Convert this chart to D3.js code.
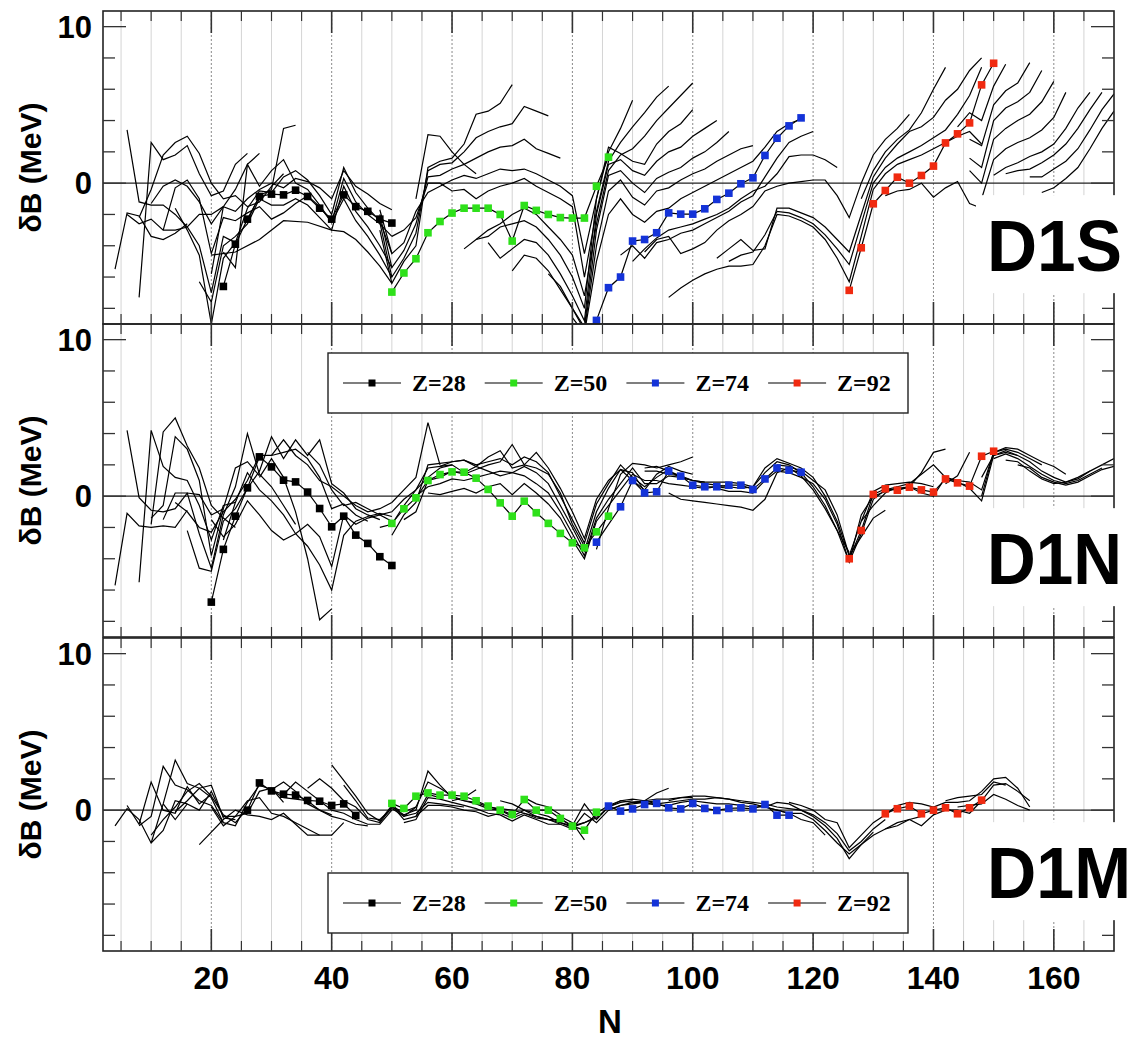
<!DOCTYPE html>
<html><head><meta charset="utf-8">
<script src="https://cdn.jsdelivr.net/npm/d3@7"></script>
<style>body{margin:0;background:#fff}</style>
</head><body>
<script>
// ---------------- DATA ----------------
const xTickValues = [20, 40, 60, 80, 100, 120, 140, 160];
const yTickLabels = [0, 10];
const panelNames = ["D1S", "D1N", "D1M"];
const legendLabels = ["Z=28", "Z=50", "Z=74", "Z=92"];
const seriesColors = ["#000000", "#2ee01a", "#1433d8", "#f02a10"];

// D1S coloured chains [N, dB]
const d1sZ28 = [[22,-6.6],[24,-3.9],[26,-2.3],[28,-0.85],[30,-0.7],[32,-0.75],[34,-0.45],[36,-0.85],[38,-1.6],[40,-2.3],[42,-0.75],[44,-1.5],[46,-1.8],[48,-2.3],[50,-2.55]];
const d1sZ50 = [[50,-6.96],[52,-5.74],[54,-4.83],[56,-3.17],[58,-2.45],[60,-1.91],[62,-1.6],[64,-1.6],[66,-1.6],[68,-2.0],[70,-3.7],[72,-1.43],[74,-1.74],[76,-2.0],[78,-2.2],[80,-2.23],[82,-2.23],[84,-0.2],[86,1.66]];
const d1sZ74 = [[84,-8.77],[86,-6.68],[88,-6.0],[90,-3.7],[92,-3.6],[94,-3.17],[96,-1.9],[98,-1.98],[100,-1.98],[102,-1.64],[104,-1.04],[106,-0.64],[108,-0.04],[110,0.34],[112,1.77],[114,2.87],[116,3.66],[118,4.17]];
const d1sZ92 = [[126,-6.85],[128,-4.13],[130,-1.32],[132,-0.47],[134,0.38],[136,0.0],[138,0.49],[140,1.09],[142,2.57],[144,3.15],[146,3.85],[148,6.28],[150,7.66]];

// D1N coloured chains
const d1nZ28 = [[20,-6.77],[22,-3.4],[24,-1.28],[26,0.53],[28,2.51],[30,1.87],[32,1.02],[34,0.91],[36,0.26],[38,-0.79],[40,-1.96],[42,-1.28],[44,-2.49],[46,-3.02],[48,-3.87],[50,-4.43]];
const d1nZ50 = [[50,-1.74],[52,-0.81],[54,-0.11],[56,1.0],[58,1.38],[60,1.55],[62,1.53],[64,1.15],[66,0.43],[68,-0.43],[70,-1.28],[72,-0.32],[74,-1.06],[76,-1.74],[78,-2.38],[80,-2.98],[82,-3.3],[84,-2.28],[86,-1.28]];
const d1nZ74 = [[84,-2.94],[88,-0.68],[90,1.0],[92,0.21],[94,0.28],[96,1.6],[98,1.28],[100,0.7],[102,0.6],[104,0.6],[106,0.7],[108,0.7],[110,0.43],[112,1.1],[114,1.8],[116,1.66],[118,1.53]];
const d1nZ92 = [[126,-4.0],[128,-2.19],[130,0.11],[132,0.47],[134,0.38],[136,0.57],[138,0.4],[140,0.26],[142,1.1],[144,0.85],[146,0.64],[148,2.55],[150,2.87]];

// D1M coloured chains
const d1mZ28 = [[26,0.0],[28,1.74],[30,1.23],[32,1.02],[34,0.96],[36,0.62],[38,0.57],[40,0.3],[42,0.4],[44,-0.34]];
const d1mZ50 = [[50,0.43],[52,0.11],[54,0.89],[56,1.1],[58,0.96],[60,0.96],[62,0.89],[64,0.6],[66,0.26],[68,0.0],[70,-0.28],[72,0.68],[74,0.0],[76,0.0],[78,-0.53],[80,-1.02],[82,-1.28],[84,-0.13]];
const d1mZ74 = [[86,0.26],[88,-0.06],[90,0.08],[92,0.36],[94,0.43],[96,0.15],[98,0.08],[100,0.43],[102,0.11],[104,-0.02],[106,0.11],[108,0.15],[110,0.08],[112,0.36],[114,-0.32],[116,-0.32]];
const d1mZ92 = [[132,-0.23],[134,0.09],[136,0.26],[138,-0.23],[140,0.0],[142,0.15],[144,-0.23],[146,0.15],[148,0.64]];

// other isotopic chains (black lines)
const d1sLines = [
 [[4,-5.5],[6,-1.9],[8,-2.1],[10,-3.4],[12,-3.6],[14,-3.2],[16,-2.6]],
 [[6,3.4],[8,-1.2],[10,-1.4],[12,-1.4],[14,-2.0],[16,-2.8],[18,-4.0],[20,-7.0],[22,-3.4],[24,-3.8]],
 [[8,-7.3],[10,2.6],[12,1.5],[14,1.8],[16,2.4],[18,0.6],[20,-0.8],[22,-0.5],[24,1.2],[26,1.9]],
 [[8,-2.2],[10,-0.4],[12,1.8],[14,2.6],[16,3.0],[18,1.9],[20,0.0],[22,-1.0],[24,-0.8],[26,-1.5],[28,-1.2],[30,-0.2],[32,0.6]],
 [[10,-1.3],[12,-0.2],[14,0.2],[16,-0.2],[18,-1.2],[20,-2.6],[22,-1.5],[24,-1.8],[26,-1.0],[28,-0.4],[30,0.0],[32,-0.3],[34,0.3],[36,0.1],[38,-0.3],[40,-1.0],[42,0.8],[44,-0.2],[46,-0.7],[48,-1.3],[50,-1.7]],
 [[12,-3.0],[14,-0.3],[16,0.2],[18,-1.0],[20,-4.5],[22,-2.2],[24,-2.4],[26,-1.9],[28,-1.5],[30,-2.3],[32,-1.9],[34,-1.3],[36,-0.8],[38,-1.5],[40,-2.5],[42,0.3],[44,-1.2],[46,-2.0],[48,-2.6],[50,-3.4]],
 [[14,-1.6],[16,-3.0],[18,-4.6],[20,-9.0],[22,-4.8],[24,-3.8],[26,-1.6],[28,-0.5],[30,-0.6],[32,0.4],[34,0.8],[36,0.2],[38,-0.8],[40,-2.0],[42,1.0],[44,-0.6],[46,-1.6],[48,-2.4],[50,-4.5]],
 [[18,-6.3],[20,-7.6],[22,-4.0],[24,-3.4],[26,-2.6],[28,-1.0],[30,-1.4],[32,-1.4],[34,-1.0],[36,-1.4],[38,-2.2],[40,-3.0],[42,-0.2],[44,-1.8],[46,-2.8],[48,-4.0],[50,-5.4]],
 [[20,-5.8],[22,-1.5],[24,-0.4],[26,1.2],[28,-0.2],[30,0.8],[32,1.5],[34,0.0],[36,-0.4],[38,-1.4],[40,-2.5],[42,-1.0],[44,-2.4],[46,-3.4],[48,-4.6],[50,-6.0]],
 [[20,-4.6],[24,-4.4],[28,-3.6],[32,-2.4],[36,-2.5],[40,-3.0],[42,-3.1],[44,-3.6],[46,-4.4],[48,-5.3],[50,-6.4]],
 [[26,-2.4],[28,-0.8],[30,-0.4],[32,3.5],[34,3.7]],
 [[22,-4.4],[24,-5.4],[26,1.2],[28,1.9]],
 [[6,-2.0],[8,-2.6],[10,-2.3],[12,-3.0],[14,-3.0],[16,-2.8],[18,-2.0],[20,-2.0],[22,-1.5]],
 [[48,-3.0],[50,-6.4],[52,-5.0],[54,-4.0],[56,1.0],[58,1.4],[60,1.6],[62,2.5],[64,4.4],[66,4.6],[68,5.1],[70,6.3]],
 [[48,-2.5],[50,-6.0],[52,-4.8],[54,-3.2],[56,0.8],[58,1.2],[60,1.3],[62,2.0],[64,2.9],[66,3.3],[68,3.6],[70,3.8],[72,4.9],[74,4.6],[76,4.3]],
 [[48,-2.0],[50,-5.4],[52,-4.3],[54,-2.6],[56,0.4],[58,0.5],[60,0.9],[62,1.2],[64,1.6],[66,2.0],[68,2.3],[70,2.4],[72,2.8],[74,2.2],[76,1.9],[78,1.6]],
 [[48,-1.7],[50,-4.5],[52,-3.8],[54,-1.8],[56,-0.6],[58,-0.2],[60,0.2],[62,0.5],[64,0.3],[66,0.6],[68,0.9],[70,0.8],[72,0.9],[74,0.6],[76,0.2],[78,-0.2],[80,-0.8],[82,-4.5],[84,-1.0],[86,2.0],[88,3.5],[90,5.3]],
 [[50,-3.4],[52,-3.0],[54,-2.2],[56,0.0],[58,0.0],[60,-0.5],[62,-0.4],[64,-1.0],[66,-0.5],[68,-0.2],[70,0.0],[72,0.3],[74,-0.2],[76,-0.6],[78,-1.0],[80,-1.5],[82,-6.0],[84,-1.8],[86,1.4],[88,2.6],[90,3.6],[92,4.5],[94,5.5],[96,6.2]],
 [[54,-1.0],[56,3.1],[58,3.0],[60,2.0],[62,1.2],[64,0.6]],
 [[62,-4.2],[64,-3.6],[66,-3.0],[68,-2.6],[70,-2.0],[72,-1.6],[74,-2.0],[76,-2.8],[78,-3.6],[80,-4.6],[82,-7.2],[84,-2.6],[86,0.8],[88,1.8],[90,2.2],[92,3.0],[94,4.0],[96,4.8],[98,5.6],[100,6.4]],
 [[64,-3.6],[66,-3.4],[68,-2.8],[70,-2.6],[72,-2.4],[74,-2.8],[76,-3.6],[78,-4.6],[80,-6.0],[82,-8.0],[84,-1.0],[86,2.3],[88,1.9],[90,1.4],[92,1.2],[94,2.5],[96,3.3],[98,3.8],[100,4.7]],
 [[66,-3.8],[68,-4.8],[70,-4.2],[72,-3.6],[74,-3.8],[76,-4.6],[78,-5.8],[80,-7.2],[82,-8.8],[84,-2.0],[86,1.2],[88,1.5],[90,0.8],[92,0.5],[94,1.4],[96,2.0],[98,2.3],[100,3.0],[102,3.5],[104,4.0]],
 [[70,-5.6],[72,-4.6],[74,-4.8],[76,-5.6],[78,-6.8],[80,-8.0],[82,-9.2],[84,-3.0],[86,0.5],[88,0.8],[90,0.0],[92,-0.6],[94,0.3],[96,0.7],[98,1.0],[100,1.6],[102,2.0],[104,2.6],[106,3.3]],
 [[76,-5.8],[78,-6.6],[80,-8.0],[82,-9.4],[84,-4.0],[86,-0.5],[88,0.2],[90,-0.9],[92,-1.4],[94,-0.5],[96,-0.3],[98,0.2],[100,0.6],[102,0.9],[104,1.4],[106,1.8],[108,2.2],[110,2.4]],
 [[80,-8.6],[82,-9.6],[84,-5.0],[86,-2.0],[88,-1.0],[90,-2.0],[92,-2.5],[94,-1.8],[96,-1.6],[98,-1.0],[100,-0.6],[102,-0.2],[104,0.2],[106,0.6],[108,1.0],[110,1.4],[112,2.3],[114,3.3],[116,3.8],[118,4.1]],
 [[88,-4.6],[90,-4.0],[92,-4.8],[94,-3.8],[96,-3.6],[98,-3.2],[100,-3.0],[102,-2.6],[104,-2.2],[106,-1.8],[108,-1.2],[110,-0.8],[112,0.4],[114,1.6],[116,2.6],[118,3.0],[120,3.3]],
 [[90,-5.0],[92,-4.2],[94,-3.5],[96,-3.0],[98,-2.8],[100,-2.6],[102,-2.3],[104,-2.0],[106,-1.6],[108,-1.0],[110,-0.5],[112,-0.2],[114,0.6],[116,1.7],[118,1.8],[120,1.8],[122,1.5],[124,1.0]],
 [[92,-4.4],[94,-3.6],[96,-3.4],[98,-4.5],[100,-4.2],[102,-3.8],[104,-3.0],[106,-2.4],[108,-2.0],[110,-1.5],[112,-0.5],[114,-0.2],[116,0.0],[118,0.1],[120,0.2],[122,0.2],[124,-0.8],[126,-2.2],[128,0.0],[130,1.8],[132,2.8],[134,3.5],[136,4.4]],
 [[104,-4.8],[106,-4.2],[108,-3.6],[110,-4.3],[112,-4.2],[114,-1.6],[116,-1.6],[118,-1.9],[120,-2.2],[122,-2.8],[124,-3.6],[126,-4.4],[128,-2.0],[130,0.4],[132,1.6],[134,2.5],[136,3.3],[138,3.6],[140,4.2],[142,5.3],[144,6.0],[146,7.2],[148,8.0]],
 [[106,-5.0],[108,-4.6],[110,-4.4],[112,-3.3],[114,-1.8],[116,-1.9],[118,-2.2],[120,-2.6],[122,-3.3],[124,-4.2],[126,-5.2],[128,-2.6],[130,0.0],[132,1.0],[134,1.6],[136,2.0],[138,2.4],[140,2.9],[142,3.4],[144,4.4],[146,5.6],[148,7.4]],
 [[96,-7.3],[98,-6.7],[100,-6.2],[102,-5.8],[104,-5.5],[106,-5.3],[108,-5.3],[110,-5.2],[112,-4.0],[114,-2.0],[116,-2.1],[118,-2.4],[120,-2.8],[122,-3.6],[124,-4.8],[126,-6.3],[128,-3.4],[130,-0.4],[132,0.6],[134,1.2],[136,1.5],[138,1.8],[140,2.2],[142,2.6],[144,3.0],[146,3.3],[148,2.5]],
 [[128,-1.0],[130,0.8],[132,2.0],[134,2.8],[136,3.4],[138,4.5],[140,6.0],[142,7.4]],
 [[132,-0.8],[134,-0.5],[136,-0.4],[138,0.0],[140,-0.9],[142,-0.3],[144,0.1],[146,-1.3],[148,-1.6]],
 [[144,3.6],[146,4.5],[148,4.0],[150,6.2],[152,7.6]],
 [[146,2.8],[148,2.4],[150,5.0],[152,5.9],[154,6.4],[156,7.7]],
 [[146,1.6],[148,1.0],[150,4.0],[152,4.8],[154,5.2],[156,5.8],[158,7.2]],
 [[146,0.8],[148,0.0],[150,2.8],[152,3.5],[154,4.0],[156,4.4],[158,5.2],[160,6.5]],
 [[148,-1.0],[150,1.5],[152,2.2],[154,2.6],[156,2.9],[158,3.4],[160,4.2],[162,5.8]],
 [[150,0.5],[152,1.0],[154,1.3],[156,1.7],[158,2.0],[160,2.5],[162,3.5],[164,4.8],[166,5.8]],
 [[152,0.6],[154,0.8],[156,0.9],[158,1.3],[160,1.8],[162,2.5],[164,3.5],[166,4.7],[168,5.8]],
 [[156,0.4],[158,0.4],[160,0.9],[162,1.4],[164,2.2],[166,3.4],[168,4.7],[170,5.7]],
 [[158,-0.6],[160,-0.3],[162,0.3],[164,1.0],[166,2.2],[168,3.5],[170,4.6]]
];

const d1nLines = [
 [[4,-5.7],[6,-1.1],[8,-1.9],[10,-2.0],[12,-1.9],[14,-2.0],[16,-0.9]],
 [[6,4.2],[8,-0.1],[10,-0.9],[12,-1.0],[14,-0.8],[16,0.2],[18,0.1],[20,-1.2],[22,-0.8]],
 [[8,-5.5],[10,4.2],[12,1.9],[14,1.2],[16,1.0],[18,-0.6],[20,-2.8],[22,-0.6],[24,-0.4]],
 [[10,-1.8],[12,4.1],[14,5.0],[16,3.2],[18,1.8],[20,-0.6],[22,-1.4],[24,-2.0]],
 [[10,-1.4],[12,-0.6],[14,3.8],[16,3.0],[18,1.0],[20,-3.8],[22,-0.8],[24,1.8],[26,2.2],[28,1.3]],
 [[12,-1.5],[14,0.2],[16,0.2],[18,-2.4],[20,-4.6],[22,-1.2],[24,0.6],[26,4.0],[28,1.4],[30,0.6],[32,-0.6],[34,-1.8]],
 [[14,-0.4],[16,-1.0],[18,-2.0],[20,-2.3],[22,-1.0],[24,-0.2],[26,1.0],[28,2.6],[30,2.6],[32,2.8],[34,3.0],[36,2.4],[38,1.2],[40,-0.8],[42,-0.5],[44,-1.2],[46,-1.6]],
 [[16,-2.2],[18,-4.6],[20,-4.8],[22,-1.6],[24,-0.8],[26,0.5],[28,1.6],[30,3.8],[32,2.4],[34,3.6],[36,2.6],[38,3.6],[40,0.8],[42,0.2],[44,-0.8],[46,-1.2],[48,-1.5]],
 [[20,-1.5],[22,-2.6],[24,-1.8],[26,-0.3],[28,-1.2],[30,-2.2],[32,-2.8],[34,-2.4],[36,-1.8],[38,-2.6],[40,-4.5],[42,-1.2],[44,-1.8],[46,-1.4],[48,-1.2],[50,-1.6]],
 [[22,-2.8],[24,-0.4],[26,1.5],[28,0.4],[30,-0.3],[32,-1.2],[34,-2.4],[36,-3.2],[38,-4.4],[40,-6.0],[42,-2.5],[44,-1.6],[46,-1.3],[48,-1.1],[50,-1.3]],
 [[28,1.2],[30,2.4],[32,1.2],[34,-1.0],[36,-4.0],[38,-7.9],[40,-7.2]],
 [[30,2.6],[32,3.6],[34,2.6],[36,2.0],[38,1.0],[40,0.6],[42,0.0],[44,-0.6],[46,-1.0],[48,-0.8],[50,-0.4],[52,0.4],[54,1.2],[56,4.7],[58,2.0]],
 [[36,2.8],[38,2.0],[40,0.4],[42,-0.6],[44,-0.4],[46,-0.8],[48,-1.2],[50,-1.0],[52,-0.2],[54,0.4],[56,1.8],[58,1.9],[60,2.0]],
 [[48,-2.0],[50,-1.8],[52,-0.6],[54,0.4],[56,1.2],[58,1.8],[60,2.0],[62,1.5],[64,1.9],[66,1.6],[68,1.3],[70,1.5],[72,1.9],[74,1.5],[76,0.8],[78,-0.6],[80,-2.0],[82,-3.5],[84,-1.0],[86,0.5],[88,1.7],[90,1.5],[92,0.3]],
 [[50,-2.5],[52,-1.2],[54,-0.4],[56,2.0],[58,2.1],[60,2.2],[62,2.3],[64,2.0],[66,2.2],[68,2.4],[70,2.0],[72,2.5],[74,2.2],[76,1.5],[78,0.0],[80,-1.5],[82,-3.0],[84,-0.5],[86,0.8],[88,2.0],[90,1.2],[92,0.6],[94,1.2],[96,1.7]],
 [[52,-1.5],[54,-1.0],[56,1.0],[58,1.2],[60,1.6],[62,1.4],[64,1.7],[66,2.0],[68,2.2],[70,3.3],[72,2.0],[74,2.8],[76,1.8],[78,0.5],[80,-1.0],[82,-2.7],[84,-0.2],[86,1.0],[88,1.7],[90,1.0],[92,0.4],[94,1.4],[96,1.9],[98,1.6],[100,1.4]],
 [[54,0.0],[56,0.6],[58,0.8],[60,1.1],[62,1.0],[64,1.2],[66,1.4],[68,1.6],[70,1.5],[72,1.3],[74,0.8],[76,0.2],[78,-1.0],[80,-2.4],[82,-3.8],[84,-1.4],[86,-0.2],[88,0.8],[90,1.8],[92,0.8],[94,0.8],[96,1.3],[98,1.2],[100,1.0],[102,0.9]],
 [[56,0.2],[58,0.1],[60,0.3],[62,0.5],[64,0.2],[66,0.6],[68,0.8],[70,0.1],[72,0.8],[74,0.2],[76,-0.5],[78,-1.4],[80,-2.8],[82,-4.0],[84,-1.6],[86,-0.6],[88,0.4],[90,1.4],[92,1.0],[94,1.0],[96,0.8],[98,0.7],[100,0.6],[102,0.5],[104,0.6],[106,0.5]],
 [[58,1.9],[60,2.2],[62,2.3],[64,1.9],[66,2.5],[68,2.9],[70,1.8],[72,2.0],[74,1.8],[76,1.4],[78,0.2],[80,-1.8],[82,-3.2]],
 [[84,-3.4],[86,-0.8],[88,1.4],[90,2.1],[92,2.0],[94,1.8],[96,2.0],[98,2.2],[100,2.5]],
 [[96,0.2],[98,-0.2],[100,-0.3],[102,-0.4],[104,-0.5],[106,-0.6],[108,-0.7],[110,-0.9],[112,-0.2],[114,1.5],[116,1.8],[118,1.3],[120,0.4],[122,-0.8],[124,-2.2],[126,-3.6]],
 [[92,1.8],[94,1.9],[96,1.6],[98,1.2],[100,1.0],[102,0.9],[104,0.9],[106,0.9],[108,0.8],[110,0.6],[112,1.5],[114,2.2],[116,2.0],[118,1.5],[120,0.6],[122,-0.6],[124,-2.2],[126,-4.2],[128,-2.4],[130,-0.2],[132,0.4],[134,0.6]],
 [[92,1.6],[94,1.6],[96,1.4],[98,1.3],[100,1.0],[102,0.8],[104,0.7],[106,0.6],[108,0.5],[110,0.6],[112,1.8],[114,2.4],[116,2.1],[118,1.8],[120,1.2],[122,0.0],[124,-1.6],[126,-3.8],[128,-1.6],[130,0.3],[132,0.7],[134,0.8],[136,0.9],[138,0.8],[140,0.6]],
 [[104,0.5],[106,0.3],[108,0.3],[110,0.2],[112,1.0],[114,1.6],[116,1.5],[118,1.2],[120,0.8],[122,-0.2],[124,-1.8],[126,-4.2],[128,-1.2],[130,0.0],[132,0.3],[134,0.5],[136,0.6],[138,0.2],[140,0.0],[142,1.2],[144,0.9],[146,0.5],[148,-0.3],[150,2.6],[152,2.8],[154,2.6]],
 [[114,2.0],[116,1.9],[118,1.6],[120,1.0],[122,0.4],[124,-1.2],[126,-3.8],[128,-2.6],[130,-1.4],[132,-0.9]],
 [[128,-1.6],[130,-0.6],[132,0.2],[134,0.6],[136,0.8],[138,1.4],[140,2.0],[142,1.2],[144,1.0],[146,0.9],[148,0.4],[150,2.8],[152,3.0],[154,2.8],[156,2.4],[158,2.0]],
 [[134,0.4],[136,0.6],[138,1.5],[140,2.8],[142,3.0]],
 [[142,0.8],[144,1.3],[146,2.8]],
 [[148,0.0],[150,2.8],[152,3.1],[154,3.0],[156,2.6],[158,2.2],[160,1.9],[162,1.4]],
 [[148,1.2],[150,2.6],[152,2.9],[154,2.6],[156,2.2],[158,1.6],[160,1.2],[162,0.9],[164,1.1],[166,1.6]],
 [[150,2.4],[152,2.7],[154,2.4],[156,1.9],[158,1.4],[160,1.0],[162,0.8],[164,1.0],[166,1.4],[168,1.8]],
 [[152,2.3],[154,2.2],[156,1.6],[158,1.1],[160,0.8],[162,0.9],[164,1.2],[166,1.6],[168,2.0],[170,2.4]],
 [[154,2.0],[156,1.8],[158,1.2],[160,0.9],[162,0.7],[164,0.9],[166,1.3],[168,1.7],[170,1.9]]
];

const d1mLines = [
 [[4,-1.0],[6,0.1],[8,-0.6],[10,-2.1],[12,-1.3],[14,0.6],[16,0.4]],
 [[6,0.3],[8,-0.9],[10,1.8],[12,0.0],[14,-0.2],[16,1.5],[18,0.4],[20,1.0]],
 [[8,-1.0],[10,-0.4],[12,2.8],[14,1.6],[16,1.3],[18,0.6],[20,0.3],[22,-0.8]],
 [[10,-2.1],[12,0.4],[14,3.2],[16,1.7],[18,1.4],[20,1.6],[22,-0.5],[24,-0.6]],
 [[10,-1.6],[12,-0.6],[14,0.2],[16,1.2],[18,1.7],[20,0.9],[22,-0.3],[24,-0.8],[26,0.1]],
 [[12,0.4],[14,-0.6],[16,0.4],[18,0.0],[20,1.2],[22,-0.4],[24,-0.4],[26,-0.2],[28,1.2],[30,1.4],[32,0.5]],
 [[14,-0.1],[16,0.6],[18,1.4],[20,0.8],[22,-0.8],[24,-1.0],[26,0.5],[28,1.6],[30,1.3],[32,0.8],[34,0.7],[36,0.6],[38,0.0],[40,-0.3]],
 [[18,-2.2],[20,-1.4],[22,-0.6],[24,0.0],[26,-0.3],[28,-0.4],[30,-0.6],[32,-0.2],[34,-0.9],[36,-1.6],[38,-1.6]],
 [[20,0.2],[22,-1.0],[24,-0.4],[26,0.6],[28,0.8],[30,-0.2],[32,-0.4],[34,-0.8],[36,-1.2],[38,-1.6],[40,-1.6],[42,-0.8]],
 [[30,1.3],[32,1.8],[34,1.2],[36,0.4],[38,0.0],[40,-0.4],[42,-0.6],[44,-0.9],[46,-1.0]],
 [[32,1.0],[34,1.8],[36,1.2],[38,0.6],[40,0.0],[42,-0.2],[44,-0.6],[46,-0.9],[48,-0.9],[50,0.0]],
 [[36,1.4],[38,2.0],[40,1.4],[42,0.6],[44,0.2],[46,-0.6],[48,-0.8],[50,0.2],[52,-0.1],[54,0.2]],
 [[40,2.9],[42,1.9],[44,0.9],[46,-0.2],[48,-0.7],[50,0.3],[52,-0.6],[54,-0.4],[56,1.0],[58,0.8]],
 [[42,1.6],[44,0.6],[46,-0.5],[48,-0.6],[50,0.1],[52,-0.4],[54,-0.2],[56,0.5],[58,0.4],[60,0.3],[62,0.2]],
 [[50,0.2],[52,-0.3],[54,0.0],[56,2.5],[58,1.6],[60,0.8],[62,0.6],[64,0.4],[66,0.1],[68,0.0],[70,-0.4],[72,0.0],[74,-0.2],[76,-0.4],[78,-0.8],[80,-1.1],[82,-0.8],[84,-0.4]],
 [[50,0.4],[52,-0.4],[54,0.2],[56,1.8],[58,1.4],[60,0.9],[62,0.6],[64,0.5],[66,0.2],[68,0.1],[70,0.0],[72,-0.2],[74,-0.5],[76,-0.6],[78,-0.6],[80,-1.0],[82,0.4],[84,-0.6],[86,0.2],[88,0.5],[90,0.6]],
 [[52,-0.8],[54,-0.6],[56,0.8],[58,0.7],[60,0.5],[62,0.3],[64,0.1],[66,-0.2],[68,-0.3],[70,-0.7],[72,-0.3],[74,-0.6],[76,-0.9],[78,-0.9],[80,-1.2],[82,-0.2],[84,-0.8],[86,0.0],[88,0.3],[90,0.4],[92,0.5],[94,0.6]],
 [[54,-0.4],[56,0.3],[58,0.3],[60,0.2],[62,0.0],[64,-0.1],[66,-0.4],[68,-0.2],[70,-0.5],[72,-0.2],[74,-0.4],[76,-0.6],[78,-0.8],[80,-1.0],[82,-0.8],[84,-0.5],[86,0.2],[88,0.6],[90,0.5],[92,0.6],[94,0.7],[96,0.7],[98,0.8],[100,0.8]],
 [[68,0.6],[70,0.4],[72,0.0],[74,-0.4],[76,-0.6],[78,-0.9]],
 [[72,0.8],[74,0.4],[76,0.2],[78,-0.3]],
 [[78,-0.4],[80,-0.8],[82,-1.9]],
 [[60,0.6],[62,0.8],[64,1.3]],
 [[90,0.5],[92,0.6],[94,1.1],[96,1.4]],
 [[84,-0.2],[86,0.3],[88,0.6],[90,0.7],[92,0.6],[94,0.4],[96,0.5],[98,0.6],[100,0.7],[102,0.7],[104,0.8],[106,0.7],[108,0.6],[110,0.5],[112,0.4],[114,0.2],[116,0.1],[118,0.0],[120,-0.4],[122,-1.0],[124,-1.8],[126,-3.1],[128,-2.2],[130,-1.4]],
 [[86,0.0],[88,0.3],[90,0.5],[92,0.5],[94,0.3],[96,0.3],[98,0.5],[100,0.6],[102,0.5],[104,0.4],[106,0.4],[108,0.3],[110,0.2],[112,0.2],[114,0.5],[116,0.4],[118,0.0],[120,-0.3],[122,-0.8],[124,-1.5],[126,-2.6],[128,-2.0],[130,-1.2],[132,-0.6]],
 [[96,0.6],[98,0.8],[100,0.9],[102,0.9],[104,0.8],[106,0.7],[108,0.5],[110,0.4],[112,0.2],[114,0.0],[116,-0.2],[118,-0.2],[120,-0.6],[122,-1.3],[124,-2.1],[126,-2.8],[128,-2.2],[130,-1.6],[132,-1.2],[134,-0.8],[136,-0.6],[138,-0.4]],
 [[112,0.2],[114,0.0],[116,-0.2],[118,-0.6],[120,-0.8],[122,-1.6]],
 [[116,0.5],[118,0.3],[120,0.0],[122,-0.6],[124,-0.8],[126,-2.4],[128,-1.6],[130,-0.8],[132,-0.3],[134,0.3],[136,0.5],[138,0.4],[140,0.2],[142,0.5],[144,0.5],[146,0.6],[148,1.2],[150,2.0],[152,2.1],[154,1.4],[156,0.2]],
 [[132,-1.2],[134,-1.0],[136,-0.6],[138,-1.0],[140,-0.3],[142,0.0],[144,0.0],[146,-0.2],[148,0.6],[150,1.6],[152,1.7],[154,1.2],[156,0.6]],
 [[142,0.6],[144,0.8],[146,0.9],[148,1.0],[150,1.8],[152,1.6]],
 [[144,0.2],[146,0.3],[148,0.4],[150,1.0],[152,0.7],[154,0.3],[156,0.0]]
];

// --------------- DRAWING ---------------
const W = 1140, H = 1041;
const svg = d3.select("body").append("svg").attr("width", W).attr("height", H)
  .style("font-family", "'Liberation Sans', Arial, Helvetica, sans-serif");

const x = d3.scaleLinear().domain([2, 170]).range([103, 1114]);
const panelTops = [11, 324, 638];
const panelH = 313;
const labelWidths = [135, 135, 144];
const panelData = [
  {lines: d1sLines, series: [d1sZ28, d1sZ50, d1sZ74, d1sZ92], legend: false},
  {lines: d1nLines, series: [d1nZ28, d1nZ50, d1nZ74, d1nZ92], legend: true},
  {lines: d1mLines, series: [d1mZ28, d1mZ50, d1mZ74, d1mZ92], legend: true}
];

const gridN = d3.range(5, 170, 5);
const minorY = d3.range(-8, 11, 2);

panelData.forEach((pd, i) => {
  const top = panelTops[i], bot = top + panelH;
  const y = d3.scaleLinear().domain([-9, 11]).range([bot, top]);
  const g = svg.append("g");
  const cid = "clip" + i;
  svg.append("clipPath").attr("id", cid).append("rect")
    .attr("x", x(2)).attr("y", top).attr("width", x(170) - x(2)).attr("height", panelH);

  // vertical grid
  g.selectAll(".grid").data(gridN).enter().append("line")
    .attr("x1", d => x(d)).attr("x2", d => x(d)).attr("y1", top).attr("y2", bot)
    .attr("stroke", d => d % 20 === 0 ? "#8a8a8a" : "#d4d4d4")
    .attr("stroke-width", 1)
    .attr("stroke-dasharray", d => d % 20 === 0 ? "2,2" : null);

  // zero line
  g.append("line").attr("x1", x(2)).attr("x2", x(170)).attr("y1", y(0)).attr("y2", y(0))
    .attr("stroke", "#222").attr("stroke-width", 1.3);

  const line = d3.line().x(d => x(d[0])).y(d => y(d[1]));
  const lg = g.append("g").attr("clip-path", `url(#${cid})`);
  lg.selectAll(".chain").data(pd.lines).enter().append("path")
    .attr("d", line).attr("fill", "none").attr("stroke", "#000").attr("stroke-width", 1.2)
    .attr("stroke-linejoin", "miter");
  lg.selectAll(".zchain").data(pd.series).enter().append("path")
    .attr("d", line).attr("fill", "none").attr("stroke", "#000").attr("stroke-width", 1.2);
  pd.series.forEach((s, k) => {
    lg.selectAll(null).data(s).enter().append("rect")
      .attr("x", d => x(d[0]) - 3.8).attr("y", d => y(d[1]) - 3.8)
      .attr("width", 7.6).attr("height", 7.6).attr("fill", seriesColors[k]);
  });

  // frame
  g.append("rect").attr("x", x(2)).attr("y", top).attr("width", x(170) - x(2)).attr("height", panelH)
    .attr("fill", "none").attr("stroke", "#222").attr("stroke-width", 1.6);

  // x ticks top & bottom
  g.selectAll(".xt").data(gridN).enter().append("g").each(function(d) {
    const len = d % 20 === 0 ? 22 : 10;
    const s = d3.select(this);
    s.append("line").attr("x1", x(d)).attr("x2", x(d)).attr("y1", bot).attr("y2", bot - len)
      .attr("stroke", "#333").attr("stroke-width", d % 20 === 0 ? 1.6 : 1.2);
    s.append("line").attr("x1", x(d)).attr("x2", x(d)).attr("y1", top).attr("y2", top + len)
      .attr("stroke", "#333").attr("stroke-width", d % 20 === 0 ? 1.6 : 1.2);
  });
  // y ticks left & right
  g.selectAll(".yt").data(minorY).enter().append("g").each(function(d) {
    const len = (d === 0 || d === 10) ? 23 : 12;
    const s = d3.select(this);
    s.append("line").attr("x1", x(2)).attr("x2", x(2) + len).attr("y1", y(d)).attr("y2", y(d))
      .attr("stroke", "#333").attr("stroke-width", 1.3);
    s.append("line").attr("x1", x(170)).attr("x2", x(170) - len).attr("y1", y(d)).attr("y2", y(d))
      .attr("stroke", "#333").attr("stroke-width", 1.3);
  });

  // y tick labels
  g.selectAll(".yl").data(yTickLabels).enter().append("text")
    .attr("x", 92).attr("y", d => y(d)).attr("dy", "0.36em")
    .attr("text-anchor", "end").attr("font-size", 31).attr("font-weight", "bold")
    .text(d => d);

  // y axis title
  g.append("text").attr("transform", `translate(41,${top + panelH / 2}) rotate(-90)`)
    .attr("text-anchor", "middle").attr("font-size", 30).attr("font-weight", "bold")
    .text("\u03B4B (MeV)");

  // legend
  if (pd.legend) {
    const ly = (i === 1) ? 383 : 903;
    const lgG = g.append("g");
    lgG.append("rect").attr("x", 328).attr("y", ly - 30).attr("width", 580).attr("height", 60)
      .attr("fill", "#fff").attr("stroke", "#222").attr("stroke-width", 1.4);
    legendLabels.forEach((lab, k) => {
      const x0 = 343 + k * 141.7;
      lgG.append("line").attr("x1", x0).attr("x2", x0 + 58).attr("y1", ly).attr("y2", ly)
        .attr("stroke", "#000").attr("stroke-width", 1.2);
      lgG.append("rect").attr("x", x0 + 29 - 3.5).attr("y", ly - 3.5).attr("width", 7).attr("height", 7)
        .attr("fill", seriesColors[k]);
      lgG.append("text").attr("x", x0 + 69).attr("y", ly).attr("dy", "0.35em")
        .attr("font-family", "'Liberation Serif', 'Times New Roman', serif")
        .attr("font-weight", "bold").attr("font-size", 24).text(lab);
    });
  }

  // panel label with white backing
  const zy = y(0);
  g.append("rect").attr("x", 976).attr("y", zy + 12).attr("width", 164).attr("height", 98).attr("fill", "#fff");
  g.append("text").attr("x", 987).attr("y", zy + 88)
    .attr("font-size", 72).attr("font-weight", "bold")
    .attr("textLength", labelWidths[i]).attr("lengthAdjust", "spacingAndGlyphs")
    .text(panelNames[i]);
});

// x tick labels (bottom)
svg.selectAll(".xl").data(xTickValues).enter().append("text")
  .attr("x", d => x(d)).attr("y", 989).attr("text-anchor", "middle")
  .attr("font-size", 32).attr("font-weight", "bold").text(d => d);
svg.append("text").attr("x", 610).attr("y", 1033).attr("text-anchor", "middle")
  .attr("font-size", 33).attr("font-weight", "bold").text("N");
</script>
</body></html>
